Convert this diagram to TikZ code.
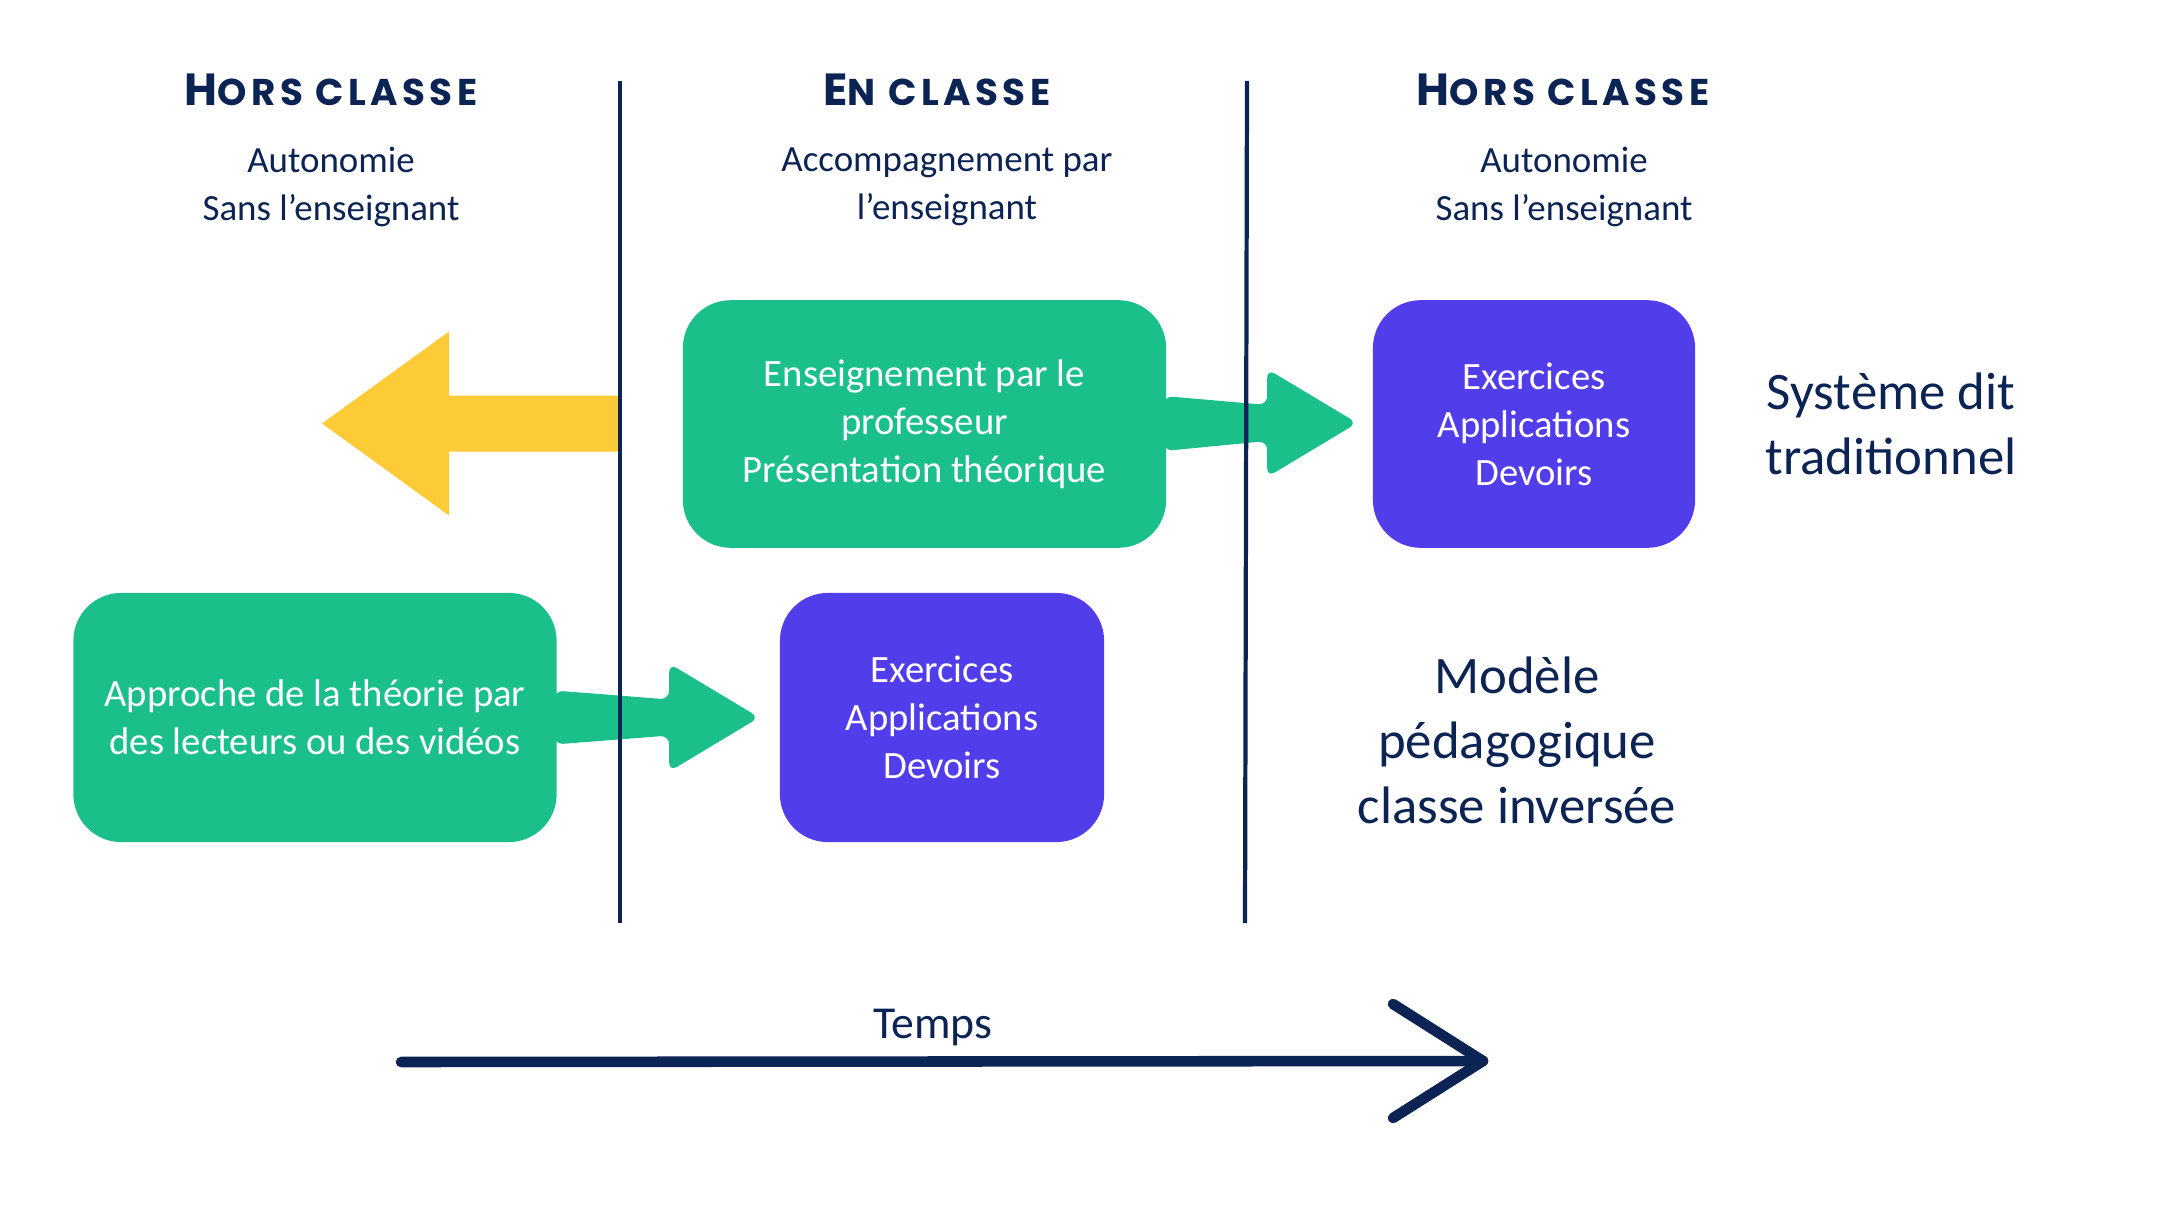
\documentclass[tikz,border=0pt]{standalone}
\usepackage{fontspec}
\setmainfont{Carlito}
\newfontfamily\headfont{Poppins}[LetterSpace=12]
\usetikzlibrary{calc}
\definecolor{navy}{HTML}{0C2454}
\definecolor{grn}{HTML}{1ABF89}
\definecolor{purp}{HTML}{523DEB}
\definecolor{yel}{HTML}{FDCB38}
\tikzset{
 box/.style={rounded corners=13.6pt, minimum height=2.475cm, align=center, text=white, font=\fontsize{11}{13.66}\selectfont, inner sep=0pt},
 gbox/.style={box, fill=grn, minimum width=4.83cm},
 pbox/.style={box, fill=purp, minimum width=3.22cm},
 head/.style={text=navy, anchor=base, inner sep=0pt, font=\headfont\bfseries},
 sub/.style={text=navy, align=center, inner sep=0pt, font=\fontsize{10.5}{13.66}\selectfont},
 big/.style={text=navy, align=center, inner sep=0pt, font=\fontsize{15}{18.5}\selectfont},
 divider/.style={navy, line width=1.2pt},
 timeline/.style={navy, line width=3pt, line cap=round, line join=round},
 fatarrow/.style={rounded corners=2.5pt},
}
\newcommand{\hcaps}[2]{{\fontsize{12.8}{14}\selectfont #1}{\fontsize{10.6}{14}\selectfont #2}}
\begin{document}
\begin{tikzpicture}[x=0.01cm,y=-0.01cm]
\useasboundingbox[fill=white] (0,0) rectangle (2160,1215);
% divider ends
\coordinate (d1t) at (620,81);
\coordinate (d1b) at (620,923);
\coordinate (d2t) at (1247,81);
\coordinate (d2b) at (1245,923);
% headings
\node[head] (h1) at (331,105) {\hcaps{H}{ORS CLASSE}};
\node[head] (h2) at (937,105) {\hcaps{E}{N CLASSE}};
\node[head] (h3) at (1563,105) {\hcaps{H}{ORS CLASSE}};
\node[sub] (s1) at (331,187) {Autonomie\\Sans l’enseignant};
\node[sub] (s2) at (947,187) {Accompagnement par\\l’enseignant};
\node[sub] (s3) at (1564,187) {Autonomie\\Sans l’enseignant};
% boxes
\node[gbox] (g1) at (924.5,424) {Enseignement par le\\professeur\\Présentation théorique};
\node[pbox] (p1) at (1534,424) {Exercices\\Applications\\Devoirs};
\node[gbox, minimum height=2.49cm] (g2) at (315,717.5) {Approche de la théorie par\\des lecteurs ou des vidéos};
\node[pbox, minimum width=3.24cm, minimum height=2.49cm] (p2) at (942,717.5) {Exercices\\Applications\\Devoirs};
% yellow arrow
\coordinate (ya) at (620,423.5);
\coordinate (yt) at (322,423.5);
\fill[yel] ($(ya)+(0,-28)$) -- ($(yt)+(127,-28)$) -- ($(yt)+(127,-92)$) -- (yt)
  -- ($(yt)+(127,92)$) -- ($(yt)+(127,28)$) -- ($(ya)+(0,28)$) -- cycle;
% green arrow 1
\coordinate (t1) at ($(p1.west)+(-15,-1)$);
\fill[grn, fatarrow] ($(g1.east)+(-3,-28)$) -- ($(t1)+(-90,-18)$) -- ($(t1)+(-90,-54)$) -- (t1)
  -- ($(t1)+(-90,54)$) -- ($(t1)+(-90,18)$) -- ($(g1.east)+(-3,27)$) -- cycle;
% green arrow 2
\coordinate (t2) at ($(p2.west)+(-20,0)$);
\fill[grn, fatarrow] ($(g2.east)+(-3,-27)$) -- ($(t2)+(-90,-18)$) -- ($(t2)+(-90,-54)$) -- (t2)
  -- ($(t2)+(-90,54)$) -- ($(t2)+(-90,18)$) -- ($(g2.east)+(-3,27)$) -- cycle;
% right texts
\node[big] (sys) at (1891,423.5) {Système dit\\traditionnel};
\node[big] (mod) at (1517,740) {Modèle\\pédagogique\\classe inversée};
% dividers
\draw[divider] (d1t) -- (d1b);
\draw[divider] (d2t) -- (d2b);
% time arrow
\coordinate (ts) at (401,1062);
\coordinate (te) at (1483,1061);
\draw[timeline] (ts) -- (te);
\draw[timeline] ($(te)+(-90,-57)$) -- (te) -- ($(te)+(-90,57)$);
\node[anchor=base, text=navy, inner sep=0pt, font=\fontsize{13}{15}\selectfont] (temps) at (933,1038) {Temps};
\end{tikzpicture}
\end{document}
